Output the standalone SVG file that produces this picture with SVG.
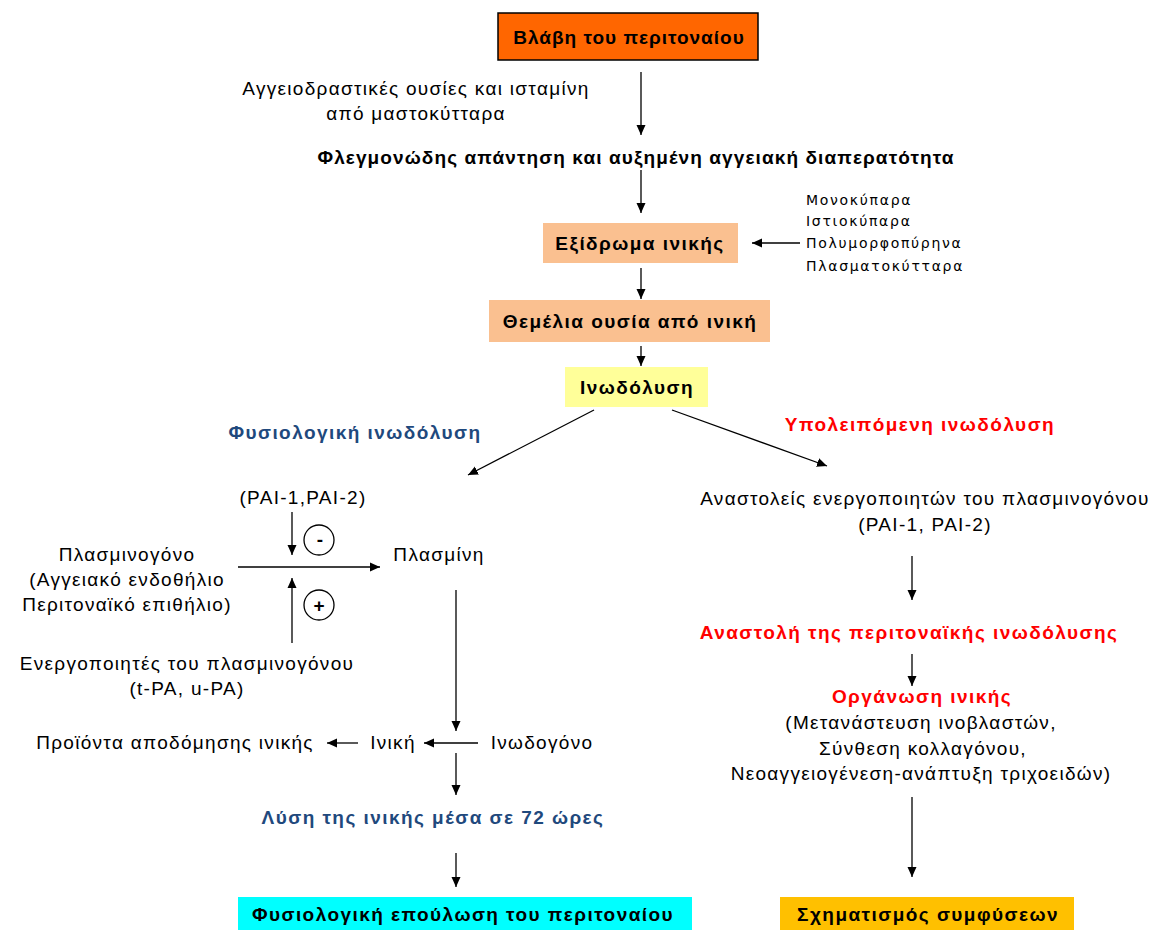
<svg xmlns="http://www.w3.org/2000/svg" width="1159" height="930" viewBox="0 0 1159 930">
<style>
text{font-family:"Liberation Sans",Arial,sans-serif;fill:#000;}
.r{font-size:19px;letter-spacing:1.3px;}
.b{font-size:19px;font-weight:bold;letter-spacing:1.45px;}
.t{letter-spacing:1px;}
.s{font-family:"DejaVu Sans","Liberation Sans",sans-serif;font-size:14px;letter-spacing:1.7px;}
.blue{fill:#1F497D;}
.red{fill:#FF0000;}
.c{text-anchor:middle;}
.ln{stroke:#000;stroke-width:1.3;fill:none;}
</style>
<defs>
<marker id="ah" viewBox="0 0 10 10" refX="10" refY="5" markerWidth="10" markerHeight="10" markerUnits="userSpaceOnUse" orient="auto">
<path d="M0,0.5 L10,5 L0,9.5 Z" fill="#000"/>
</marker>
</defs>
<rect width="1159" height="930" fill="#fff"/>

<g id="n-vlavi">
<rect x="498" y="13" width="260" height="47" fill="#FF6600" stroke="#000" stroke-width="1.5"/>
<text class="b c t" x="629" y="44">Βλάβη του περιτοναίου</text>
</g>
<g id="n-aggeio">
<text class="r c" x="416" y="95">Αγγειοδραστικές ουσίες και ισταμίνη</text>
<text class="r c" x="416" y="120">από μαστοκύτταρα</text>
</g>
<g id="n-flegm">
<text class="b c" x="636" y="164" style="letter-spacing:1.1px">Φλεγμονώδης απάντηση και αυξημένη αγγειακή διαπερατότητα</text>
</g>
<g id="n-exidr">
<rect x="543" y="223" width="195" height="40" fill="#FAC090"/>
<text class="b c" x="640" y="250">Εξίδρωμα ινικής</text>
</g>
<g id="n-cells">
<text class="s" x="806" y="205">Μονοκύπαρα</text>
<text class="s" x="806" y="226">Ιστιοκύπαρα</text>
<text class="s" x="806" y="248">Πολυμορφοπύρηνα</text>
<text class="s" x="806" y="271">Πλασματοκύτταρα</text>
</g>
<g id="n-themel">
<rect x="489" y="300" width="281" height="42" fill="#FAC090"/>
<text class="b c" x="630" y="328">Θεμέλια ουσία από ινική</text>
</g>
<g id="n-inod">
<rect x="565" y="367" width="143" height="40" fill="#FFFF99"/>
<text class="b c" x="637" y="394">Ινωδόλυση</text>
</g>
<g id="n-fysiol">
<text class="b c blue" x="355" y="439">Φυσιολογική ινωδόλυση</text>
</g>
<g id="n-ypol">
<text class="b c red" x="920" y="431">Υπολειπόμενη ινωδόλυση</text>
</g>
<g id="n-pai">
<text class="r c" x="303" y="504">(PAI-1,PAI-2)</text>
</g>
<g id="n-minus">
<circle cx="319" cy="540" r="15" fill="none" stroke="#000" stroke-width="1.3"/>
<text class="b c" x="320" y="546" style="letter-spacing:0">-</text>
</g>
<g id="n-plus">
<circle cx="319" cy="605" r="15" fill="none" stroke="#000" stroke-width="1.3"/>
<text class="b c" x="319" y="612" style="letter-spacing:0">+</text>
</g>
<g id="n-plasminogono">
<text class="r c" x="127" y="561">Πλασμινογόνο</text>
<text class="r c" x="127" y="586">(Αγγειακό ενδοθήλιο</text>
<text class="r c" x="127" y="611">Περιτοναϊκό επιθήλιο)</text>
</g>
<g id="n-plasmini">
<text class="r c" x="439" y="561">Πλασμίνη</text>
</g>
<g id="n-energ">
<text class="r c" x="187" y="670">Ενεργοποιητές του πλασμινογόνου</text>
<text class="r c" x="187" y="695">(t-PA, u-PA)</text>
</g>
<g id="n-proionta">
<text class="r c" x="175" y="749">Προϊόντα αποδόμησης ινικής</text>
</g>
<g id="n-iniki">
<text class="r c" x="393" y="749">Ινική</text>
</g>
<g id="n-inodogono">
<text class="r c" x="542" y="749">Ινωδογόνο</text>
</g>
<g id="n-lysi">
<text class="b c blue" x="433" y="824">Λύση της ινικής μέσα σε 72 ώρες</text>
</g>
<g id="n-epoul">
<rect x="238" y="897" width="454" height="33" fill="#00FFFF"/>
<text class="b c" x="463" y="921">Φυσιολογική επούλωση του περιτοναίου</text>
</g>
<g id="n-anastol">
<text class="r c" x="925" y="505">Αναστολείς ενεργοποιητών του πλασμινογόνου</text>
<text class="r c" x="925" y="531">(PAI-1, PAI-2)</text>
</g>
<g id="n-anastoli">
<text class="b c red" x="909" y="639">Αναστολή της περιτοναϊκής ινωδόλυσης</text>
</g>
<g id="n-organ">
<text class="b c red" x="922" y="703">Οργάνωση ινικής</text>
<text class="r c" x="921" y="729">(Μετανάστευση ινοβλαστών,</text>
<text class="r c" x="923" y="755">Σύνθεση κολλαγόνου,</text>
<text class="r c" x="921" y="780">Νεοαγγειογένεση-ανάπτυξη τριχοειδών)</text>
</g>
<g id="n-symf">
<rect x="780" y="897" width="294" height="33" fill="#FFC000"/>
<text class="b c" x="928" y="921">Σχηματισμός συμφύσεων</text>
</g>

<g id="connectors">
<line class="ln" x1="641" y1="72" x2="641" y2="135" marker-end="url(#ah)"/>
<line class="ln" x1="641" y1="170" x2="641" y2="213" marker-end="url(#ah)"/>
<line class="ln" x1="800" y1="243" x2="752" y2="243" marker-end="url(#ah)"/>
<line class="ln" x1="641" y1="268" x2="641" y2="299" marker-end="url(#ah)"/>
<line class="ln" x1="641" y1="346" x2="641" y2="366" marker-end="url(#ah)"/>
<line class="ln" x1="594" y1="410" x2="468" y2="475" marker-end="url(#ah)"/>
<line class="ln" x1="672" y1="410" x2="827" y2="466" marker-end="url(#ah)"/>
<line class="ln" x1="292" y1="512" x2="292" y2="555" marker-end="url(#ah)"/>
<line class="ln" x1="238" y1="567" x2="380" y2="567" marker-end="url(#ah)"/>
<line class="ln" x1="292" y1="643" x2="292" y2="578" marker-end="url(#ah)"/>
<line class="ln" x1="456" y1="590" x2="456" y2="731" marker-end="url(#ah)"/>
<line class="ln" x1="478" y1="743" x2="424" y2="743" marker-end="url(#ah)"/>
<line class="ln" x1="358" y1="743" x2="327" y2="743" marker-end="url(#ah)"/>
<line class="ln" x1="456" y1="753" x2="456" y2="795" marker-end="url(#ah)"/>
<line class="ln" x1="456" y1="853" x2="456" y2="887" marker-end="url(#ah)"/>
<line class="ln" x1="912" y1="556" x2="912" y2="600" marker-end="url(#ah)"/>
<line class="ln" x1="912" y1="654" x2="912" y2="686" marker-end="url(#ah)"/>
<line class="ln" x1="912" y1="797" x2="912" y2="877" marker-end="url(#ah)"/>
</g>
</svg>
